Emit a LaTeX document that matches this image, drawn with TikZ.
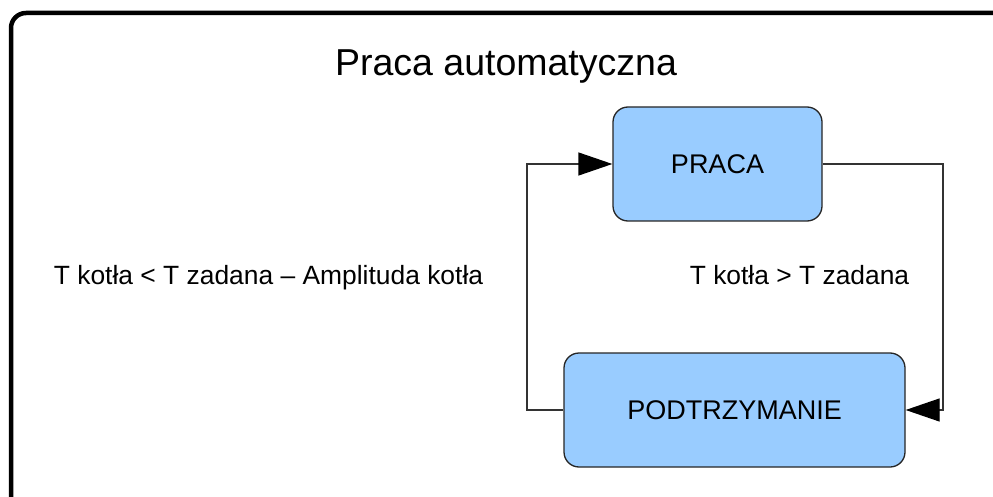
\documentclass[tikz,border=0pt]{standalone}
\usepackage{fontspec}
\setmainfont{Liberation Sans}
\usetikzlibrary{arrows.meta}
\definecolor{boxblue}{HTML}{99CCFF}
\tikzset{
  statebox/.style={draw=black!85, line width=1.3pt, fill=boxblue, rounded corners=15pt, inner sep=0pt, font=\fontsize{27}{31}\selectfont},
  conn/.style={draw=black!80, line width=1.3pt, -{Triangle[length=34pt,width=23pt,color=black]}},
  lbl/.style={font=\fontsize{26.4}{30}\selectfont, anchor=base, inner sep=0pt},
}
\begin{document}
\begin{tikzpicture}[x=1pt,y=-1pt]
\useasboundingbox (0,0) rectangle (993,497);
\fill[white] (0,0) rectangle (993,497);
\begin{scope}
\clip (0,0) rectangle (993,497);
\draw[line width=4.5pt, rounded corners=15pt] (11,13) rectangle (1010,510);
\end{scope}
\node[font=\fontsize{37.5}{44}\selectfont, anchor=base, inner sep=0pt] (title) at (506,76) {Praca automatyczna};
\node[statebox, minimum width=209pt, minimum height=114pt] (praca) at (717.5,164) {PRACA};
\node[statebox, minimum width=341pt, minimum height=114pt] (podt) at (734.5,410) {PODTRZYMANIE};
\coordinate (rc) at (943,410);
\coordinate (lc) at (527,164);
\draw[conn] (praca.east) -| (rc) -- (podt.east);
\draw[conn] (podt.west) -| (lc) -- (praca.west);
\node[lbl] (l1) at (268.5,284) {T kotła < T zadana – Amplituda kotła};
\node[lbl] (l2) at (799.5,284) {T kotła > T zadana};
\end{tikzpicture}
\end{document}
